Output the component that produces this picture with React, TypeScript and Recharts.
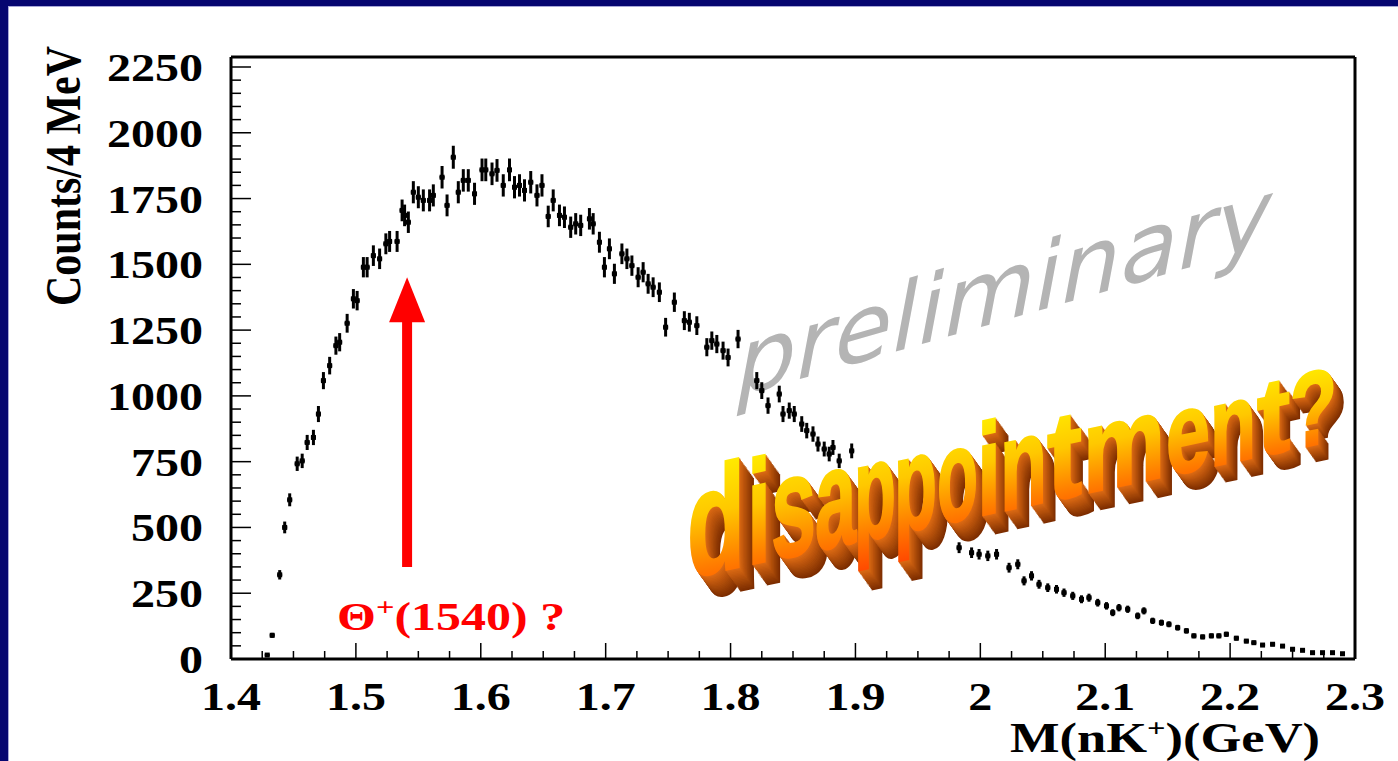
import React from 'react';
import { ScatterChart, Scatter, XAxis, YAxis, ErrorBar, ReferenceLine, ReferenceDot } from 'recharts';

// ---- data (bin centre in GeV, counts per 4 MeV) ----
const massGeV = [
  1.429, 1.433, 1.439, 1.443, 1.447, 1.453, 1.457, 1.461, 1.466, 1.470,
  1.474, 1.479, 1.484, 1.487, 1.493, 1.498, 1.501, 1.506, 1.509, 1.514,
  1.519, 1.524, 1.527, 1.533, 1.537, 1.539, 1.542, 1.546, 1.550, 1.554,
  1.559, 1.562, 1.569, 1.573, 1.578, 1.582, 1.586, 1.590, 1.595, 1.601,
  1.604, 1.609, 1.613, 1.618, 1.623, 1.627, 1.631, 1.635, 1.640, 1.645,
  1.649, 1.654, 1.658, 1.663, 1.667, 1.672, 1.676, 1.680, 1.687, 1.690,
  1.695, 1.699, 1.703, 1.707, 1.713, 1.717, 1.721, 1.726, 1.730, 1.734,
  1.738, 1.743, 1.748, 1.755, 1.763, 1.767, 1.773, 1.781, 1.785, 1.789,
  1.794, 1.798, 1.806, 1.821, 1.825, 1.830, 1.839, 1.842, 1.847, 1.851,
  1.857, 1.861, 1.866, 1.870, 1.875, 1.879, 1.882, 1.887, 1.897,
  1.983, 1.993, 1.999, 2.006, 2.013, 2.023, 2.030, 2.035, 2.041, 2.047,
  2.054, 2.061, 2.067, 2.074, 2.081, 2.087, 2.094, 2.101, 2.106, 2.111,
  2.118, 2.126, 2.131, 2.138, 2.145, 2.151, 2.158, 2.165, 2.171, 2.178,
  2.185, 2.191, 2.197, 2.205, 2.213, 2.219, 2.226, 2.234, 2.242, 2.250,
  2.258, 2.266, 2.274, 2.282, 2.290,
];
const counts = [
  15, 90, 320, 500, 605, 742, 753, 823, 842, 931,
  1058, 1115, 1191, 1204, 1276, 1369, 1362, 1489, 1489, 1533,
  1521, 1578, 1587, 1587, 1705, 1686, 1660, 1774, 1755, 1743,
  1743, 1762, 1831, 1724, 1907, 1774, 1819, 1819, 1768, 1859,
  1859, 1844, 1857, 1800, 1859, 1793, 1800, 1781, 1812, 1762,
  1800, 1682, 1743, 1686, 1679, 1641, 1654, 1648, 1673, 1654,
  1584, 1489, 1559, 1464, 1540, 1521, 1495, 1451, 1470, 1426,
  1413, 1394, 1261, 1356, 1286, 1280, 1267, 1185, 1210, 1197,
  1172, 1146, 1216, 1058, 1020, 963, 1007, 931, 944, 931,
  893, 868, 855, 817, 798, 779, 804, 753, 791,
  423, 404, 398, 392, 398, 347, 360, 297, 316, 284,
  271, 265, 252, 240, 227, 233, 214, 202, 176, 195,
  189, 164, 183, 145, 138, 132, 119, 107, 88, 84,
  88, 88, 94, 79, 68, 62, 53, 56, 49, 37,
  33, 24, 24, 24, 20,
];
const binHalfWidth = 0.002;

const xMajorTicks = [1.4, 1.5, 1.6, 1.7, 1.8, 1.9, 2.0, 2.1, 2.2, 2.3];
const xTickLabels = ['1.4', '1.5', '1.6', '1.7', '1.8', '1.9', '2', '2.1', '2.2', '2.3'];
const yMajorTicks = [0, 250, 500, 750, 1000, 1250, 1500, 1750, 2000, 2250];
const xMinorPerMajor = 4;
const yMinorPerMajor = 5;

const xDomain = [1.4, 2.3];
const yDomain = [0, 2288];

const arrowMass = 1.541;
const arrowFrom = 350;
const arrowTo = 1280;

const points = massGeV.map((m, i) => ({ x: m, y: counts[i], ey: Math.sqrt(counts[i]), ex: binHalfWidth }));

const xTicks: number[] = [];
for (let i = 0; i < xMajorTicks.length - 1; i++) {
  for (let j = 0; j < xMinorPerMajor; j++) {
    xTicks.push(Math.round((xMajorTicks[i] + (j * (xMajorTicks[i + 1] - xMajorTicks[i])) / xMinorPerMajor) * 10000) / 10000);
  }
}
xTicks.push(xMajorTicks[xMajorTicks.length - 1]);
const yTicks: number[] = [];
for (let i = 0; i < yMajorTicks.length - 1; i++) {
  for (let j = 0; j < yMinorPerMajor; j++) {
    yTicks.push(yMajorTicks[i] + (j * (yMajorTicks[i + 1] - yMajorTicks[i])) / yMinorPerMajor);
  }
}
yTicks.push(yMajorTicks[yMajorTicks.length - 1]);

const SERIF = "'Liberation Serif', 'Times New Roman', serif";
const SANS = "'Liberation Sans', Arial, sans-serif";

const XTick = (props: any) => {
  const { x, y, payload } = props;
  const v = payload.value;
  const idx = xMajorTicks.findIndex((t) => Math.abs(t - v) < 1e-6);
  const major = idx >= 0;
  return (
    <g>
      <line x1={x} x2={x} y1={y} y2={y - (major ? 16 : 8)} stroke="#000" strokeWidth={1.5} />
      {major && (
        <text transform={`translate(${x},${y + 51}) scale(1.2,1)`} textAnchor="middle" fontFamily={SERIF} fontWeight="bold" fontSize={40} fill="#000">
          {xTickLabels[idx]}
        </text>
      )}
    </g>
  );
};

const YTick = (props: any) => {
  const { x, y, payload } = props;
  const v = payload.value;
  const major = yMajorTicks.indexOf(v) >= 0;
  return (
    <g>
      <line x1={x} x2={x + (major ? 20 : 10)} y1={y} y2={y} stroke="#000" strokeWidth={1.5} />
      {major && (
        <text transform={`translate(${x - 28},${y + 14}) scale(1.2,1)`} textAnchor="end" fontFamily={SERIF} fontWeight="bold" fontSize={40} fill="#000">
          {String(v)}
        </text>
      )}
    </g>
  );
};

const Marker = (props: any) => {
  const { cx, cy } = props;
  return <rect x={cx - 2.5} y={cy - 2.5} width={5} height={5} fill="#000" />;
};

const ArrowHead = (props: any) => {
  const { cx, cy } = props;
  return <polygon points={`${cx - 18},${cy} ${cx + 18},${cy} ${cx},${cy - 45}`} fill="#ff0000" />;
};

// word-art layout: [letter, left edge px, width px]
const artLetters: [string, number, number][] = [
  ['d', 687, 58], ['i', 747, 24], ['s', 771, 45], ['a', 815, 41], ['p', 854, 42], ['p', 894, 43],
  ['o', 937, 41], ['i', 977, 24], ['n', 1000, 47], ['t', 1047, 35], ['m', 1083, 82], ['e', 1166, 44],
  ['n', 1210, 46], ['t', 1257, 33], ['?', 1290, 47],
];
const ART_X0 = 687;
const ART_Y0 = 578;
const ART_SPAN = 648;
const ART_F0 = 152;
const ART_SHRINK = 0.32;
const SKEW = 12;
const tanSkew = Math.tan((SKEW * Math.PI) / 180);
const EXT_STEPS = 16;

function mix(a: number[], b: number[], t: number) {
  const c = a.map((v, i) => Math.round(v + (b[i] - v) * t));
  return `rgb(${c[0]},${c[1]},${c[2]})`;
}

export default function App() {
  const sides: any[] = [];
  const faces: any[] = [];
  artLetters.forEach(([ch, left, w], i) => {
    const lx = left - ART_X0;
    const s = 1 - (ART_SHRINK * (lx + w / 2)) / ART_SPAN;
    const fs = ART_F0 * s;
    for (let k = EXT_STEPS; k >= 1; k--) {
      const t = k / EXT_STEPS;
      const dx = 15 * s * t;
      const dyScreen = 21 * s * t;
      const dyLocal = dyScreen + dx * tanSkew;
      const col = mix([222, 108, 20], [125, 45, 0], t);
      sides.push(
        <text key={`s${i}_${k}`} x={lx + dx} y={dyLocal} fontFamily={SANS} fontWeight="bold" fontSize={fs}
          textLength={w} lengthAdjust="spacingAndGlyphs" fill={col} stroke={col} strokeWidth={2.5}>
          {ch}
        </text>
      );
    }
    faces.push(
      <text key={`f${i}`} x={lx} y={0} fontFamily={SANS} fontWeight="bold" fontSize={fs}
        textLength={w} lengthAdjust="spacingAndGlyphs" fill="url(#dgrad)" stroke="url(#dgrad)" strokeWidth={2.5}>
        {ch}
      </text>
    );
  });

  return (
    <div style={{ position: 'fixed', left: 0, top: 0, width: 1398, height: 761, background: '#fff', overflow: 'hidden' }}>
      {/* background watermark */}
      <svg width={1398} height={761} style={{ position: 'absolute', left: 0, top: 0 }}>
        <text transform={`translate(737,397) skewY(-16)`} fontFamily="'DejaVu Sans', sans-serif" fontStyle="italic" fontSize={92}
          fill="#b4b4b4" textLength={535} lengthAdjust="spacingAndGlyphs">
          preliminary
        </text>
      </svg>

      <div style={{ position: 'absolute', left: 0, top: 0 }}>
        <ScatterChart width={1398} height={761} margin={{ top: 57, right: 43, bottom: 0, left: 0 }}>
          <XAxis type="number" dataKey="x" domain={xDomain} ticks={xTicks} interval={0} allowDataOverflow
            height={102} tickSize={0} tickMargin={0} tickLine={false} tick={<XTick />}
            axisLine={{ stroke: '#000', strokeWidth: 3 }} />
          <YAxis type="number" dataKey="y" domain={yDomain} ticks={yTicks} interval={0} allowDataOverflow
            width={231} tickSize={0} tickMargin={0} tickLine={false} tick={<YTick />}
            axisLine={{ stroke: '#000', strokeWidth: 3 }} />
          <ReferenceLine y={yDomain[1]} stroke="#000" strokeWidth={3} />
          <ReferenceLine x={xDomain[1]} stroke="#000" strokeWidth={3} />
          <ReferenceLine segment={[{ x: arrowMass, y: arrowFrom }, { x: arrowMass, y: arrowTo + 5 }]} stroke="#ff0000" strokeWidth={10} />
          <ReferenceDot x={arrowMass} y={arrowTo} r={1} shape={<ArrowHead />} />
          <Scatter data={points} shape={<Marker />} isAnimationActive={false}>
            <ErrorBar dataKey="ey" direction="y" width={0} stroke="#000" strokeWidth={3} isAnimationActive={false} />
            <ErrorBar dataKey="ex" direction="x" width={0} stroke="#000" strokeWidth={2.5} isAnimationActive={false} />
          </Scatter>
        </ScatterChart>
      </div>

      {/* overlay texts */}
      <svg width={1398} height={761} style={{ position: 'absolute', left: 0, top: 0, pointerEvents: 'none' }}>
        <defs>
          <linearGradient id="dgrad" x1="0" y1="0" x2="0" y2="1">
            <stop offset="0.15" stopColor="#ffea00" />
            <stop offset="0.45" stopColor="#ffc800" />
            <stop offset="0.75" stopColor="#ff8000" />
            <stop offset="1" stopColor="#ff4a00" />
          </linearGradient>
        </defs>

        {/* axis titles */}
        <text transform="translate(80,176) scale(1.2,1) rotate(-90)" textAnchor="middle" fontFamily={SERIF} fontWeight="bold" fontSize={42} fill="#000">
          Counts/4 MeV
        </text>
        <text transform="translate(1010,752) scale(1.25,1)" fontFamily={SERIF} fontWeight="bold" fontSize={42} fill="#000">
          M(nK<tspan dy={-15} fontSize={26}>+</tspan><tspan dy={15}>)(GeV)</tspan>
        </text>

        {/* theta label */}
        <text transform="translate(337,630) scale(1.25,1)" fontFamily={SERIF} fontWeight="bold" fontSize={40} fill="#ff0000">
          Θ<tspan dy={-14} fontSize={26}>+</tspan><tspan dy={14}>(1540) ?</tspan>
        </text>

        {/* 3D word art */}
        <g transform={`translate(${ART_X0},${ART_Y0}) skewY(-${SKEW})`}>
          {sides}
          {faces}
        </g>
      </svg>

      {/* slide border */}
      <div style={{ position: 'absolute', left: 0, top: 0, width: 1398, height: 6, background: '#060670' }} />
      <div style={{ position: 'absolute', left: 0, top: 0, width: 8, height: 761, background: '#060670' }} />
      <div style={{ position: 'absolute', left: 8, top: 6, width: 1390, height: 1, background: '#a8a8d8' }} />
      <div style={{ position: 'absolute', left: 8, top: 6, width: 1, height: 755, background: '#a8a8d8' }} />
    </div>
  );
}
